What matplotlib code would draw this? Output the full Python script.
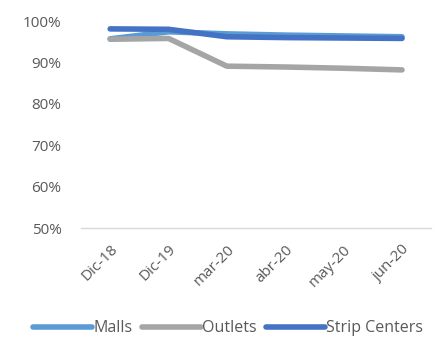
import numpy as np
import matplotlib
matplotlib.use("Agg")
import matplotlib.pyplot as plt
from matplotlib.ticker import FuncFormatter

plt.rcParams['font.family'] = ['Open Sans', 'DejaVu Sans']

categories = ["Dic-18", "Dic-19", "mar-20", "abr-20", "may-20", "jun-20"]
malls = [95.7, 97.4, 96.9, 96.6, 96.4, 96.2]
outlets = [95.6, 95.8, 89.1, 88.9, 88.6, 88.2]
strip_centers = [98.1, 98.0, 96.2, 96.0, 95.9, 95.8]

gray_txt = "#595959"

fig = plt.figure(figsize=(4.4, 3.39), dpi=100)
ax = fig.add_axes([0.184, 0.327, 0.796, 0.611])

x = np.arange(len(categories))
ax.plot(x, np.array(malls) / 100, color="#5b9bd5", lw=4, label="Malls",
        solid_capstyle="round", clip_on=False)
ax.plot(x, np.array(outlets) / 100, color="#a5a5a5", lw=4, label="Outlets",
        solid_capstyle="round", clip_on=False)
ax.plot(x, np.array(strip_centers) / 100, color="#4472c4", lw=4, label="Strip Centers",
        solid_capstyle="round", clip_on=False)

ax.set_xlim(-0.5, len(categories) - 0.5)
ax.set_ylim(0.5, 1.0)
ax.set_yticks([0.5, 0.6, 0.7, 0.8, 0.9, 1.0])
ax.yaxis.set_major_formatter(FuncFormatter(lambda v, p: f"{v*100:.0f}%"))
ax.set_xticks(x)
ax.set_xticklabels(categories, rotation=45, ha="right", rotation_mode="anchor")

for s in ["top", "right", "left"]:
    ax.spines[s].set_visible(False)
ax.spines["bottom"].set_color("#d9d9d9")
ax.spines["bottom"].set_linewidth(1.0)
ax.tick_params(length=0, labelsize=11, colors=gray_txt)
ax.tick_params(axis="x", pad=10)
ax.tick_params(axis="y", pad=14)

fig.legend(loc="lower center", bbox_to_anchor=(0.518, -0.035), ncol=3, frameon=False,
           fontsize=11.5, labelcolor=gray_txt, handlelength=3.7, handletextpad=0.05,
           columnspacing=0.6)

fig.savefig("out.png", dpi=100)
